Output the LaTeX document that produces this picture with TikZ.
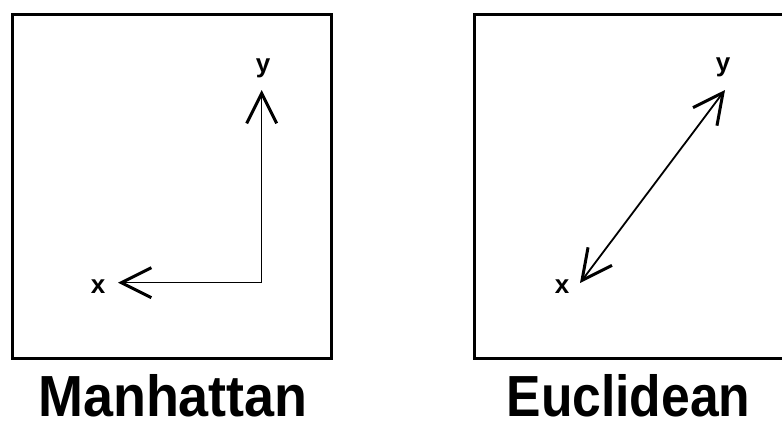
\documentclass[tikz,border=0pt]{standalone}
\usepackage{fontspec}
\setmainfont{Liberation Sans}
\usetikzlibrary{arrows.meta}
\begin{document}
\begin{tikzpicture}[x=1pt,y=-1pt,
  panel/.style={draw, line width=3pt, minimum width=318.7pt, minimum height=344pt, inner sep=0pt},
  title/.style={font=\fontsize{58}{58}\selectfont\bfseries, anchor=base, inner sep=0pt},
  ptlabel/.style={font=\fontsize{26}{26}\selectfont\bfseries, anchor=base, inner sep=0pt},
  barb/.style={-{Straight Barb[length=30pt,width=30pt,line width=3pt]}, line width=1.5pt},
  dbarb/.style={{Straight Barb[length=30pt,width=30pt,line width=3pt]}-{Straight Barb[length=30pt,width=30pt,line width=3pt]}, line width=1.8pt},
]
\useasboundingbox (0,0) rectangle (782,423);
\clip (0,0) rectangle (782,423);
% panels
\node[panel] (L) at (172.3,186) {};
\node[panel] (R) at (634,186) {};
% titles
\node[title] (tL) at (173,416) {\scalebox{0.93}[1]{Manhattan}};
\node[title] (tR) at (628.5,416) {\scalebox{0.89}[1]{Euclidean}};
% point labels
\node[ptlabel] (xL) at (98,293) {x};
\node[ptlabel] (yL) at (263,72) {y};
\node[ptlabel] (xR) at (562,293) {x};
\node[ptlabel] (yR) at (723,71) {y};
% Manhattan path
\coordinate (cL) at (261.7,282.7);
\coordinate (tipUp) at (261.7,90);
\coordinate (tipLeft) at (118,282.7);
\draw[barb] (cL) -- (tipUp);
\draw[barb] (cL) -- (tipLeft);
% Euclidean path
\coordinate (eA) at (580,283);
\coordinate (eB) at (725,90);
\draw[dbarb] (eA) -- (eB);
\end{tikzpicture}
\end{document}
